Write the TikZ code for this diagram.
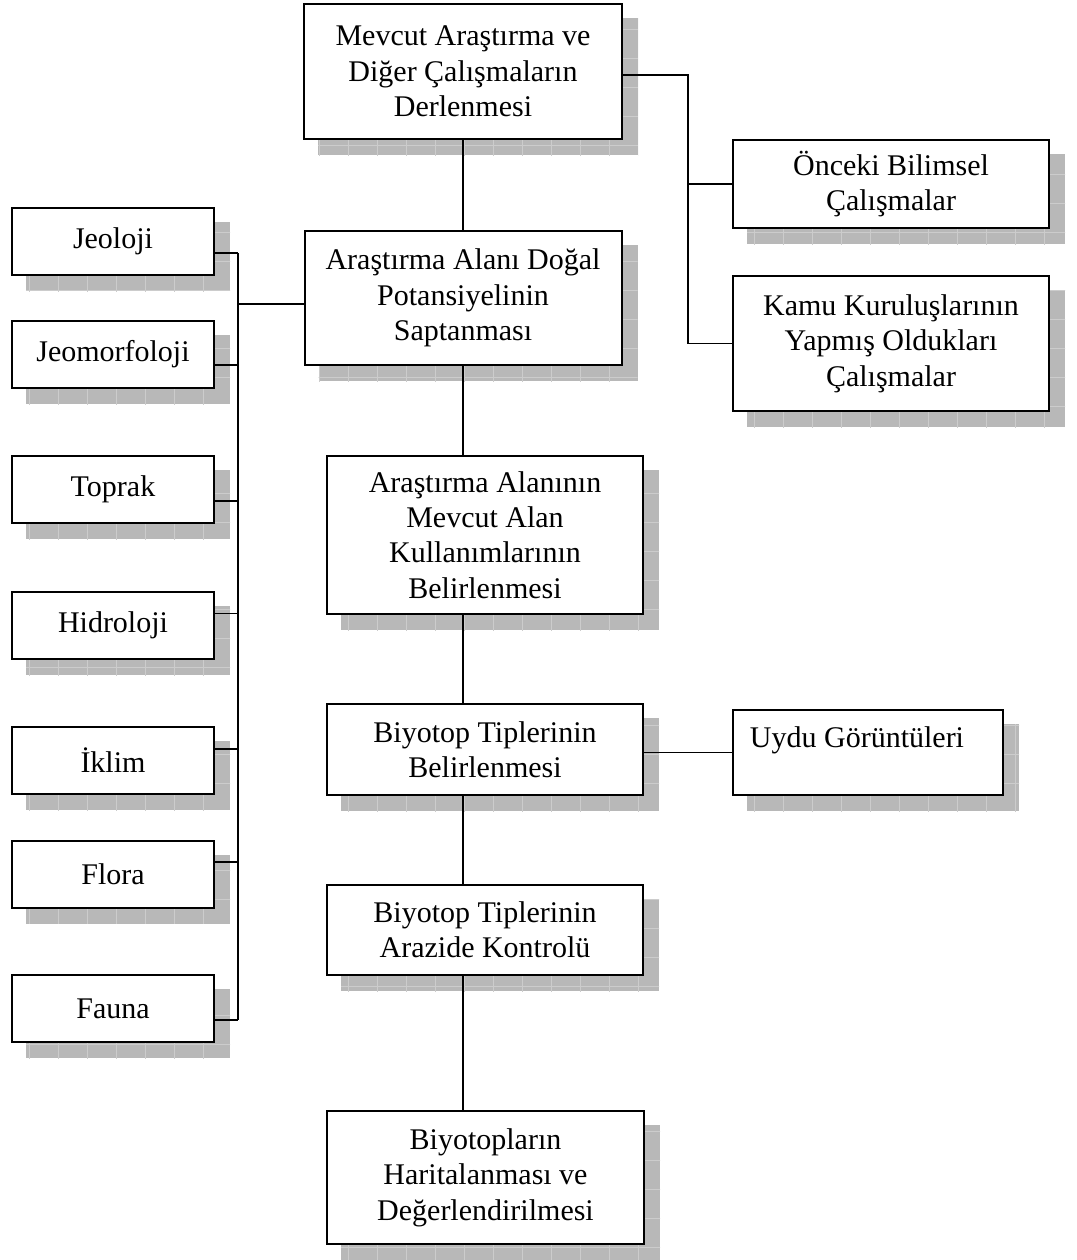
\documentclass[tikz,border=0pt]{standalone}
\usepackage{fontspec}
\setmainfont{Liberation Serif}
\usetikzlibrary{calc,backgrounds}
\definecolor{shadowc}{gray}{0.72}
\definecolor{gridc}{gray}{0.80}
\tikzset{
  box/.style={draw, fill=white, line width=1.5pt, align=center, inner sep=0pt,
              font=\fontsize{22.5}{26.5}\selectfont},
  sz/.style 2 args={minimum width=#1*0.75pt, minimum height=#2*0.75pt},
  conn/.style={line width=1.4pt},
  txtonly/.style={inner sep=0pt, font=\fontsize{22.5}{26.5}\selectfont},
}
\begin{document}
\begin{tikzpicture}[x=0.75pt,y=-0.75pt]
\useasboundingbox (0,0) rectangle (1076,1260);

% central column
\node[box, sz={318}{135}] (top) at (463,71.5) {Mevcut Araştırma ve\\Diğer Çalışmaların\\Derlenmesi};
\node[box, sz={317}{134}] (dogal) at (463,298) {Araştırma Alanı Doğal\\Potansiyelinin\\Saptanması};
\node[box, sz={316}{158}] (mevcut) at (485,535) {Araştırma Alanının\\Mevcut Alan\\Kullanımlarının\\Belirlenmesi};
\node[box, sz={316}{91}] (biyo) at (485,749.5) {Biyotop Tiplerinin\\Belirlenmesi};
\node[box, sz={316}{90}] (arazi) at (485,930) {Biyotop Tiplerinin\\Arazide Kontrolü};
\node[box, sz={317}{133}] (harita) at (485.5,1177.5) {Biyotopların\\Haritalanması ve\\Değerlendirilmesi};

% right column
\node[box, sz={316}{88}] (onceki) at (891,184) {Önceki Bilimsel\\Çalışmalar};
\node[box, sz={316}{135}] (kamu) at (891,343.5) {Kamu Kuruluşlarının\\Yapmış Oldukları\\Çalışmalar};
\node[box, sz={270}{85}] (uydu) at (868,752.5) {};
\node[txtonly] (uydut) at (857,740) {Uydu Görüntüleri};

% left column
\node[box, sz={202}{67}] (jeo) at (113,241.5) {Jeoloji};
\node[box, sz={202}{67}] (jeom) at (113,354.5) {Jeomorfoloji};
\node[box, sz={202}{67}] (toprak) at (113,489.5) {Toprak};
\node[box, sz={202}{67}] (hidro) at (113,625.5) {Hidroloji};
\node[box, sz={202}{67}] (iklim) at (113,760.5) {İklim};
\node[box, sz={202}{67}] (flora) at (113,874) {Flora};
\node[box, sz={202}{67}] (fauna) at (113,1008.5) {Fauna};

% shadows
\begin{scope}[on background layer]
  \fill[white] (0,0) rectangle (1076,1260);
  \foreach \n in {top,dogal,mevcut,biyo,arazi,harita,onceki,kamu,uydu,jeo,jeom,toprak,hidro,iklim,flora,fauna}{
    \fill[shadowc] ($(\n.south west)+(15,15)$) rectangle ($(\n.north east)+(15,15)$);
    \begin{scope}
      \clip ($(\n.south west)+(15,15)$) rectangle ($(\n.north east)+(15,15)$);
      \draw[gridc, line width=0.5pt] ($(\n.south west)+(0,30)$) grid[step=21.75pt] ($(\n.north east)+(30,0)$);
    \end{scope}
  }
\end{scope}

% central spine
\draw[conn] (top.south) -- (dogal.north);
\draw[conn] (dogal.south) -- (dogal.south |- mevcut.north);
\draw[conn] (dogal.south |- mevcut.south) -- (dogal.south |- biyo.north);
\draw[conn] (dogal.south |- biyo.south) -- (dogal.south |- arazi.north);
\draw[conn] (dogal.south |- arazi.south) -- (dogal.south |- harita.north);

% right branches
\coordinate (rbus) at (688,75);
\draw[conn] ($(top.east)+(0,3.5)$) -- (rbus) -- (rbus |- kamu.west) -- (kamu.west);
\draw[conn] (rbus |- onceki.west) -- (onceki.west);
\draw[conn] (uydu.west) -- (biyo.east |- uydu.west);

% left branches
\coordinate (lbus) at (237,304);
\draw[conn] (lbus) -- (dogal.west |- lbus);
\draw[conn] ($(jeo.east)+(23,11.5)$) -- ($(fauna.east)+(23,11.5)$);
\draw[conn] ($(jeo.east)+(0,11.5)$) -- ++(23,0);
\draw[conn] ($(jeom.east)+(0,10.5)$) -- ++(23,0);
\draw[conn] ($(toprak.east)+(0,11.5)$) -- ++(23,0);
\draw[conn] ($(hidro.east)+(0,-12)$) -- ++(23,0);
\draw[conn] ($(iklim.east)+(0,-11.5)$) -- ++(23,0);
\draw[conn] ($(flora.east)+(0,-12)$) -- ++(23,0);
\draw[conn] ($(fauna.east)+(0,11.5)$) -- ++(23,0);
\end{tikzpicture}
\end{document}
